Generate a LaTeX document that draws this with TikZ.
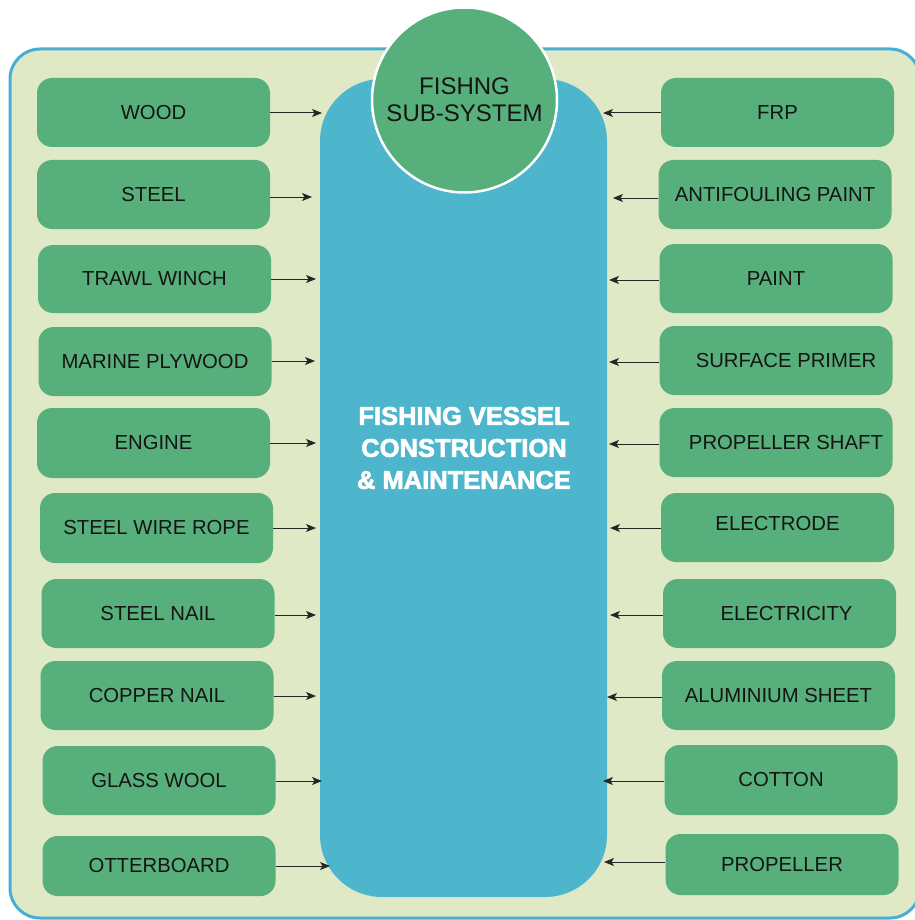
\documentclass[tikz,border=0pt]{standalone}
\usepackage{fontspec}
\setmainfont{Liberation Sans}
\newfontfamily\heavyfont{Liberation Sans Bold}[FakeBold=2.5]
\usetikzlibrary{arrows.meta}
\definecolor{bgreen}{HTML}{DFE9C6}
\definecolor{boxgreen}{HTML}{57B07B}
\definecolor{pillblue}{HTML}{4DB6CC}
\definecolor{frameblue}{HTML}{4AADD6}
\definecolor{inkdark}{HTML}{141414}
\definecolor{arrowgray}{HTML}{262626}
\tikzset{
  itembox/.style={fill=boxgreen, rounded corners=15pt, minimum width=233pt, minimum height=69pt,
    inner sep=0pt, text=inkdark, font=\fontsize{20.3}{24}\selectfont},
  conn/.style={draw=arrowgray, line width=1pt, -{Stealth[length=10pt,width=8pt,inset=2.5pt]}},
}
\begin{document}
\begin{tikzpicture}[x=1pt,y=-1pt]
\useasboundingbox (0,0) rectangle (914,920);
% outer frame
\draw[line width=3pt, draw=frameblue, fill=bgreen, rounded corners=30pt] (10,49) rectangle (920,918);
% central pill
\node[fill=pillblue, rounded corners=62pt, minimum width=287pt, minimum height=818pt, inner sep=0pt] (pill) at (463.5,488) {};
\node[text=white, align=center, font=\heavyfont\fontsize{25.5}{32}\selectfont] (title) at (464,448)
  {FISHING VESSEL\\CONSTRUCTION\\\&\ MAINTENANCE};
% sub-system circle
\node[circle, fill=boxgreen, draw=white, line width=2.5pt, minimum size=185pt, inner sep=0pt,
  align=center, text=inkdark, font=\fontsize{24}{27}\selectfont] (sub) at (464.5,100) {FISHNG\\SUB-SYSTEM};
% left boxes
\node[itembox] (wood)   at (153.5,112.5) {WOOD};
\node[itembox] (steel)  at (153.5,194.5) {STEEL};
\node[itembox, minimum height=68pt] (trawl)  at (154.5,279) {TRAWL WINCH};
\node[itembox] (marine) at (155,361.5) {MARINE PLYWOOD};
\node[itembox, minimum height=70pt] (engine) at (153.5,443) {ENGINE};
\node[itembox, minimum height=70pt] (swr)    at (156.5,528) {STEEL WIRE ROPE};
\node[itembox] (snail)  at (158,613.5) {STEEL NAIL};
\node[itembox] (cnail)  at (157,695.5) {COPPER NAIL};
\node[itembox] (glass)  at (159,780.5) {GLASS WOOL};
\node[itembox, minimum height=60pt] (otter)  at (159,866) {OTTERBOARD};
% right boxes
\node[itembox] (frp)    at (777.5,112.5) {FRP};
\node[itembox] (anti)   at (775,194.5) {ANTIFOULING PAINT};
\node[itembox] (paint)  at (776,278.5) {PAINT};
\node[itembox] (surf)   at (776,360.5) {\hspace*{20pt}SURFACE PRIMER};
\node[itembox] (pshaft) at (776,442.5) {\hspace*{20pt}PROPELLER SHAFT};
\node[itembox] (electrode) at (777.5,527.5) {\raisebox{9pt}{ELECTRODE}};
\node[itembox] (electricity) at (779.5,613.5) {\hspace*{14pt}ELECTRICITY};
\node[itembox] (alum)   at (778.5,695.5) {ALUMINIUM SHEET};
\node[itembox, minimum height=70pt] (cotton) at (781,780) {COTTON};
\node[itembox, minimum height=61pt] (prop)   at (782,864.5) {PROPELLER};
% arrow tips (free ends)
\coordinate (twood) at (322,113);
\coordinate (tsteel) at (312,197);
\coordinate (ttrawl) at (316,279);
\coordinate (tmarine) at (315,361);
\coordinate (tengine) at (316,443);
\coordinate (tswr) at (316,528);
\coordinate (tsnail) at (316,615);
\coordinate (tcnail) at (316,696);
\coordinate (tglass) at (322,781);
\coordinate (totter) at (330,866);
\coordinate (tfrp) at (603,113);
\coordinate (tanti) at (613,198);
\coordinate (tpaint) at (609,280);
\coordinate (tsurf) at (609,362);
\coordinate (tpshaft) at (609,444);
\coordinate (telectrode) at (610,528);
\coordinate (telectricity) at (610,615);
\coordinate (talum) at (607,697);
\coordinate (tcotton) at (603,781);
\coordinate (tprop) at (604,862);
\foreach \n in {wood,steel,trawl,marine,engine,swr,snail,cnail,glass,otter}{
  \draw[conn] (t\n -| \n.east) -- (t\n);
}
\foreach \n in {frp,anti,paint,surf,pshaft,electrode,electricity,alum,cotton,prop}{
  \draw[conn] (t\n -| \n.west) -- (t\n);
}
\end{tikzpicture}
\end{document}
